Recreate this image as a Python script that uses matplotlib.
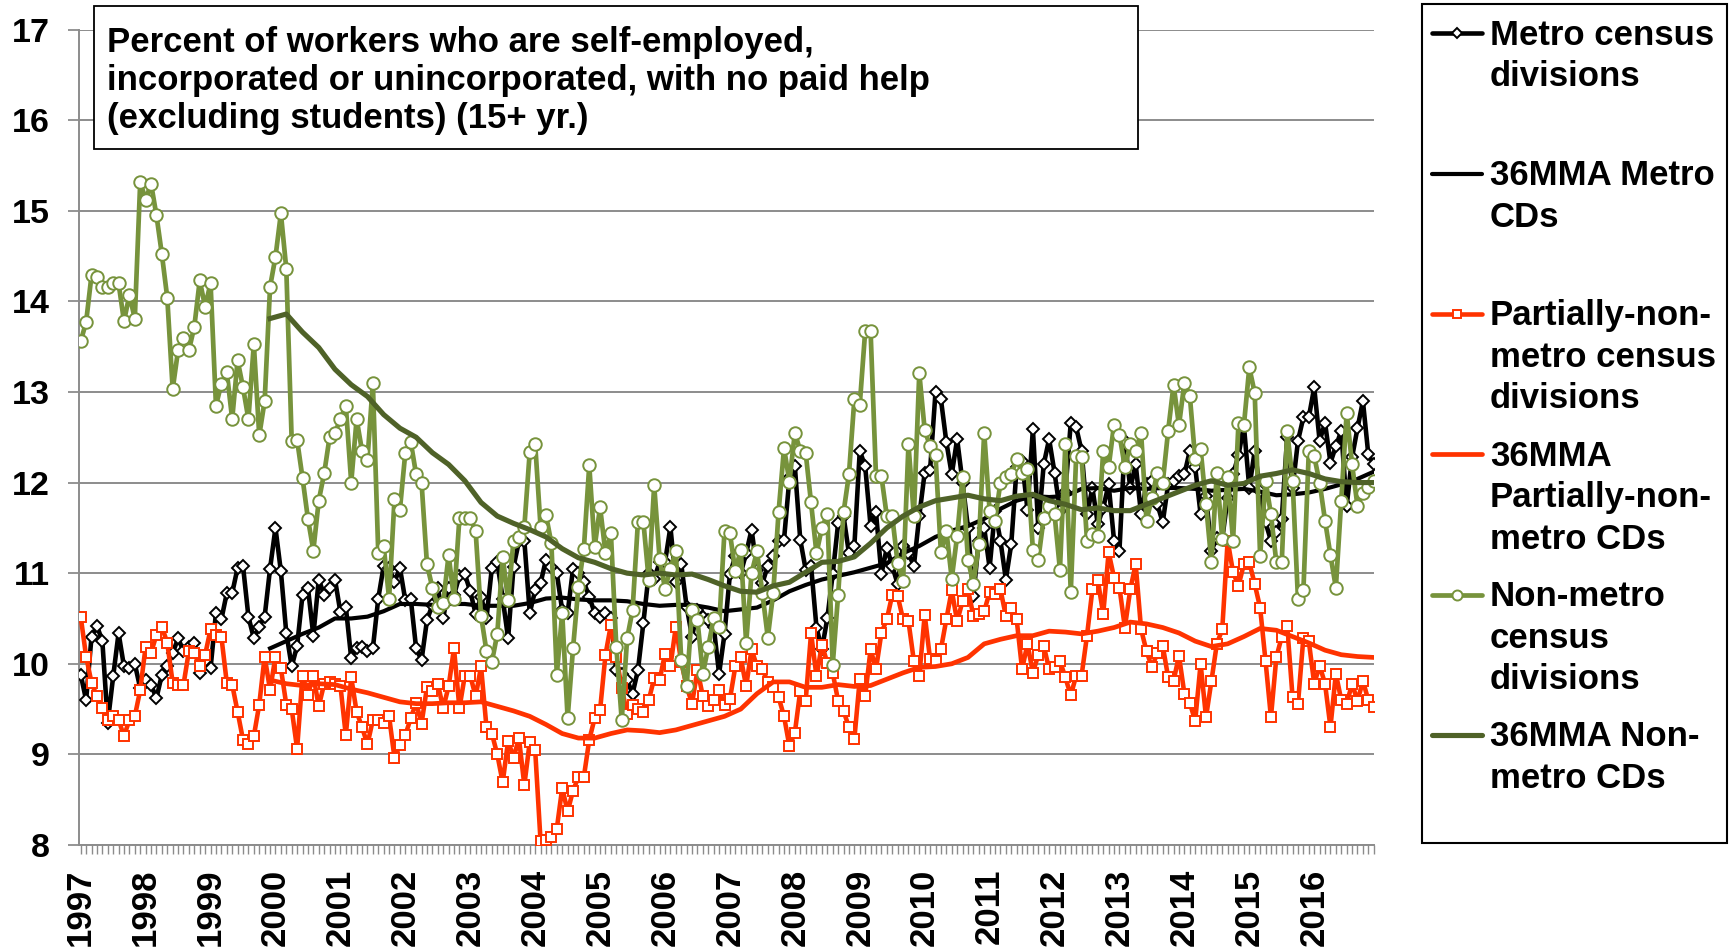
"""
Self-employment (no paid help) by census-division type, monthly 1997-2016,
with 36-month moving averages. Saves out.png.
"""

import matplotlib
matplotlib.use("Agg")
import matplotlib.pyplot as plt
import numpy as np
from matplotlib.lines import Line2D
from matplotlib.patches import Rectangle

BLACK = "#000000"
RED = "#FF3300"
GREEN = "#77933C"
OLIVE = "#4F6228"
GRID = "#8C8C8C"

plt.rcParams["font.family"] = ["Liberation Sans", "DejaVu Sans"]
plt.rcParams["font.weight"] = "bold"

YEARS = list(range(1997, 2017))

# monthly values, Jan 1997 .. Dec 2016 (12 per row)
METRO = [
    9.88, 9.60, 10.30, 10.42, 10.25, 9.35, 9.86, 10.34, 9.97, 9.95, 10.00, 9.73,
    9.82, 9.77, 9.62, 9.88, 9.97, 10.12, 10.28, 10.14, 10.19, 10.23, 9.90, 10.03,
    9.95, 10.56, 10.49, 10.78, 10.78, 11.06, 11.08, 10.52, 10.28, 10.41, 10.52, 11.05,
    11.50, 11.02, 10.34, 9.97, 10.20, 10.76, 10.84, 10.31, 10.93, 10.76, 10.84, 10.93,
    10.57, 10.63, 10.06, 10.17, 10.19, 10.14, 10.17, 10.72, 11.08, 11.06, 10.90, 11.06,
    10.70, 10.72, 10.17, 10.04, 10.48, 10.65, 10.84, 10.50, 10.84, 10.76, 10.97, 10.99,
    10.80, 10.55, 10.74, 10.50, 11.06, 11.12, 10.72, 10.28, 11.07, 11.35, 11.36, 10.56,
    10.81, 10.89, 11.15, 11.07, 11.00, 10.59, 10.56, 11.05, 11.00, 10.90, 10.74, 10.56,
    10.52, 10.56, 10.50, 9.93, 9.89, 9.82, 9.67, 9.93, 10.45, 11.00, 10.94, 11.12,
    11.12, 11.51, 10.90, 11.10, 10.63, 10.30, 10.59, 10.52, 10.48, 10.41, 9.89, 10.33,
    10.99, 11.19, 11.00, 11.22, 11.48, 11.04, 10.89, 11.08, 11.19, 11.35, 11.37, 12.05,
    12.18, 11.37, 11.04, 11.08, 10.40, 10.16, 10.50, 10.99, 11.55, 11.63, 11.22, 11.30,
    12.35, 12.18, 11.52, 11.67, 10.99, 11.28, 11.08, 10.88, 11.30, 11.22, 11.08, 11.63,
    12.11, 12.14, 13.00, 12.92, 12.45, 12.09, 12.48, 12.00, 11.50, 10.75, 11.36, 11.50,
    11.06, 11.69, 11.36, 10.93, 11.32, 12.17, 12.24, 11.70, 12.59, 11.50, 12.20, 12.48,
    12.11, 11.69, 11.90, 12.66, 12.61, 12.35, 11.65, 11.94, 11.54, 11.72, 11.98, 11.36,
    11.25, 12.46, 11.94, 12.20, 11.65, 11.98, 12.02, 11.76, 11.56, 11.98, 12.02, 12.07,
    12.09, 12.35, 12.17, 11.65, 11.85, 11.25, 11.39, 11.38, 11.83, 12.09, 12.30, 12.63,
    11.94, 12.35, 11.91, 11.56, 11.36, 11.45, 11.60, 12.50, 11.94, 12.46, 12.72, 12.72,
    13.05, 12.46, 12.66, 12.22, 12.40, 12.57, 11.74, 12.28, 12.60, 12.90, 12.31, 12.20,
]

PARTIAL = [
    10.52, 10.08, 9.79, 9.64, 9.51, 9.38, 9.42, 9.38, 9.20, 9.38, 9.42, 9.71,
    10.19, 10.12, 10.32, 10.41, 10.23, 9.79, 9.77, 9.77, 10.14, 10.12, 9.97, 10.10,
    10.38, 10.32, 10.30, 9.79, 9.77, 9.47, 9.16, 9.12, 9.20, 9.55, 10.08, 9.71,
    10.08, 9.95, 9.55, 9.50, 9.06, 9.87, 9.66, 9.87, 9.53, 9.78, 9.80, 9.78,
    9.76, 9.21, 9.85, 9.47, 9.30, 9.11, 9.38, 9.38, 9.35, 9.42, 8.96, 9.10,
    9.21, 9.40, 9.57, 9.34, 9.74, 9.70, 9.78, 9.51, 9.75, 10.17, 9.51, 9.87,
    9.87, 9.64, 9.97, 9.30, 9.23, 9.00, 8.69, 9.15, 8.96, 9.18, 8.66, 9.14,
    9.05, 8.04, 8.06, 8.09, 8.18, 8.63, 8.37, 8.60, 8.75, 8.75, 9.16, 9.40,
    9.49, 10.10, 10.43, 10.08, 9.73, 9.45, 9.54, 9.50, 9.47, 9.60, 9.84, 9.82,
    10.11, 9.97, 10.41, 10.02, 9.75, 9.56, 9.93, 9.64, 9.53, 9.60, 9.71, 9.55,
    9.61, 9.97, 10.07, 9.75, 10.16, 9.97, 9.94, 9.80, 9.74, 9.63, 9.42, 9.09,
    9.24, 9.70, 9.59, 10.34, 9.86, 10.21, 10.01, 9.90, 9.59, 9.48, 9.30, 9.17,
    9.83, 9.64, 10.16, 9.94, 10.34, 10.49, 10.76, 10.75, 10.49, 10.47, 10.03, 9.86,
    10.54, 10.05, 10.03, 10.16, 10.49, 10.81, 10.47, 10.69, 10.82, 10.53, 10.55, 10.58,
    10.79, 10.77, 10.82, 10.53, 10.62, 10.49, 9.94, 10.22, 9.90, 10.10, 10.20, 9.94,
    9.96, 10.03, 9.85, 9.65, 9.87, 9.87, 10.31, 10.82, 10.92, 10.55, 11.23, 10.95,
    10.84, 10.40, 10.82, 11.10, 10.38, 10.14, 9.96, 10.12, 10.20, 9.85, 9.81, 10.09,
    9.67, 9.57, 9.37, 10.00, 9.41, 9.81, 10.22, 10.38, 11.36, 11.01, 10.86, 11.10,
    11.12, 10.88, 10.62, 10.03, 9.41, 10.07, 10.30, 10.42, 9.63, 9.56, 10.29, 10.25,
    9.78, 9.98, 9.78, 9.30, 9.89, 9.60, 9.56, 9.78, 9.59, 9.81, 9.60, 9.52,
]

NONMETRO = [
    13.56, 13.77, 14.29, 14.27, 14.16, 14.16, 14.20, 14.20, 13.78, 14.07, 13.81, 15.32,
    15.12, 15.30, 14.95, 14.52, 14.04, 13.03, 13.46, 13.60, 13.46, 13.72, 14.23, 13.94,
    14.20, 12.85, 13.09, 13.22, 12.70, 13.35, 13.05, 12.70, 13.53, 12.52, 12.90, 14.16,
    14.49, 14.97, 14.36, 12.46, 12.47, 12.05, 11.60, 11.25, 11.80, 12.10, 12.50, 12.55,
    12.70, 12.85, 12.00, 12.70, 12.35, 12.25, 13.10, 11.22, 11.30, 10.72, 11.82, 11.70,
    12.33, 12.45, 12.09, 12.00, 11.10, 10.84, 10.63, 10.67, 11.20, 10.72, 11.61, 11.61,
    11.61, 11.46, 10.53, 10.14, 10.02, 10.33, 11.18, 10.70, 11.36, 11.40, 11.51, 12.34,
    12.43, 11.51, 11.64, 11.33, 9.88, 10.56, 9.40, 10.17, 10.85, 11.27, 12.19, 11.29,
    11.73, 11.22, 11.44, 10.19, 9.38, 10.28, 10.59, 11.57, 11.57, 10.92, 11.97, 11.16,
    10.83, 11.05, 11.24, 10.04, 9.75, 10.59, 10.48, 9.89, 10.19, 10.50, 10.41, 11.47,
    11.44, 11.02, 11.26, 10.23, 11.00, 11.24, 10.78, 10.29, 10.78, 11.68, 12.38, 12.01,
    12.55, 12.35, 12.33, 11.78, 11.22, 11.50, 11.65, 9.99, 10.76, 11.67, 12.09, 12.92,
    12.86, 13.67, 13.67, 12.07, 12.07, 11.63, 11.63, 11.11, 10.91, 12.42, 11.63, 13.21,
    12.58, 12.40, 12.30, 11.23, 11.47, 10.94, 11.41, 12.06, 11.15, 10.88, 11.32, 12.55,
    11.69, 11.58, 12.00, 12.06, 12.09, 12.26, 12.11, 12.15, 11.26, 11.15, 11.61, 11.74,
    11.65, 11.04, 12.42, 10.79, 12.29, 12.28, 11.36, 11.43, 11.41, 12.35, 12.17, 12.64,
    12.53, 12.17, 12.42, 12.35, 12.55, 11.58, 11.83, 12.11, 12.00, 12.57, 13.08, 12.63,
    13.10, 12.96, 12.26, 12.37, 11.76, 11.12, 12.11, 11.38, 12.06, 11.36, 12.66, 12.63,
    13.27, 12.99, 11.19, 12.02, 11.65, 11.12, 11.12, 12.57, 12.02, 10.71, 10.81, 12.35,
    12.29, 12.00, 11.58, 11.20, 10.84, 11.80, 12.77, 12.20, 11.74, 11.89, 11.95, 12.02,
]

# 36-month moving averages, read every third month from Dec 1999 (month 35)
MA_MONTHS = list(range(35, 240, 3))

MA_METRO = [
    10.17, 10.25, 10.33, 10.40, 10.50, 10.50, 10.52, 10.58, 10.66, 10.66, 10.65, 10.66,
    10.66, 10.64, 10.64, 10.64, 10.67, 10.72, 10.73, 10.71, 10.70, 10.70, 10.69, 10.66,
    10.64, 10.65, 10.65, 10.62, 10.58, 10.60, 10.62, 10.70, 10.80, 10.87, 10.93, 10.97,
    11.01, 11.06, 11.11, 11.22, 11.30, 11.40, 11.47, 11.52, 11.60, 11.71, 11.80, 11.85,
    11.84, 11.85, 11.93, 11.94, 11.91, 11.94, 11.93, 11.94, 11.94, 11.93, 11.91, 11.92,
    11.93, 11.90, 11.86, 11.87, 11.89, 11.93, 11.98, 12.04, 12.12,
]

MA_PARTIAL = [
    9.82, 9.78, 9.76, 9.78, 9.77, 9.72, 9.68, 9.63, 9.58, 9.56, 9.56, 9.57,
    9.57, 9.58, 9.53, 9.48, 9.42, 9.33, 9.23, 9.18, 9.18, 9.23, 9.27, 9.26,
    9.24, 9.27, 9.32, 9.37, 9.42, 9.50, 9.67, 9.80, 9.80, 9.74, 9.74, 9.77,
    9.75, 9.76, 9.83, 9.90, 9.96, 9.97, 10.00, 10.07, 10.22, 10.27, 10.31, 10.31,
    10.36, 10.35, 10.33, 10.36, 10.40, 10.46, 10.44, 10.40, 10.34, 10.25, 10.19, 10.22,
    10.30, 10.39, 10.37, 10.30, 10.23, 10.15, 10.10, 10.08, 10.07,
]

MA_NONMETRO = [
    13.81, 13.86, 13.66, 13.49, 13.25, 13.08, 12.95, 12.75, 12.60, 12.50, 12.33, 12.20,
    12.02, 11.78, 11.63, 11.55, 11.48, 11.40, 11.27, 11.17, 11.12, 11.05, 11.00, 10.98,
    11.00, 10.98, 10.99, 10.93, 10.86, 10.80, 10.79, 10.86, 10.90, 11.01, 11.12, 11.13,
    11.18, 11.33, 11.50, 11.63, 11.73, 11.80, 11.83, 11.86, 11.82, 11.80, 11.85, 11.87,
    11.80, 11.76, 11.70, 11.72, 11.69, 11.69, 11.76, 11.83, 11.90, 11.97, 12.02, 11.97,
    11.99, 12.07, 12.10, 12.14, 12.10, 12.04, 12.01, 12.00, 12.00,
]

TITLE_LINES = [
    "Percent of workers who are self-employed,",
    "incorporated or unincorporated, with no paid help",
    "(excluding students) (15+ yr.)",
]

LEGEND_LINES = [
    ["Metro census", "divisions"],
    ["36MMA Metro", "CDs"],
    ["Partially-non-", "metro census", "divisions"],
    ["36MMA", "Partially-non-", "metro CDs"],
    ["Non-metro", "census", "divisions"],
    ["36MMA Non-", "metro CDs"],
]

# series styles, in legend order
STYLES = [
    dict(color=BLACK, lw=3.3, marker="D", ms=6.3, mfc="white", mec=BLACK, mew=1.4),
    dict(color=BLACK, lw=3.0),
    dict(color=RED, lw=3.3, marker="s", ms=7.6, mfc="white", mec=RED, mew=1.4),
    dict(color=RED, lw=3.4),
    dict(color=GREEN, lw=3.4, marker="o", ms=9, mfc="white", mec=GREEN, mew=1.4),
    dict(color=OLIVE, lw=3.7),
]

W, H = 1733, 948
fig = plt.figure(figsize=(W / 100, H / 100), dpi=100)

# plot area in pixels: x 79..1374, y 29.5..845
x0, x1, ytop, ybot = 79.3, 1374.0, 29.5, 845.0
ax = fig.add_axes([x0 / W, 1 - ybot / H, (x1 - x0) / W, (ybot - ytop) / H])

series = [
    (np.arange(len(METRO)), METRO),
    (MA_MONTHS, MA_METRO),
    (np.arange(len(PARTIAL)), PARTIAL),
    (MA_MONTHS, MA_PARTIAL),
    (np.arange(len(NONMETRO)), NONMETRO),
    (MA_MONTHS, MA_NONMETRO),
]
for i, ((xs, ys), st) in enumerate(zip(series, STYLES)):
    ax.plot(xs, ys, zorder=3 + i, solid_joinstyle="round", **st)

ax.set_xlim(-0.26, 239.05)
ax.set_ylim(8, 17)
ax.set_yticks(range(8, 18))
ax.set_xticks([12 * i for i in range(len(YEARS))])
ax.set_xticklabels([str(y) for y in YEARS], rotation=90, fontsize=25,
                   fontweight="bold", va="top")
ax.set_xticks(range(240), minor=True)
ax.tick_params(axis="x", which="both", direction="out", length=6.5,
               width=1, color=GRID, pad=10.5)
ax.tick_params(axis="y", direction="out", length=8, width=1.3, color=GRID,
               pad=13, labelsize=24.5)
for lab in ax.get_yticklabels():
    lab.set_fontweight("bold")

ax.yaxis.grid(True, color=GRID, lw=1.4, zorder=1)
ax.set_axisbelow(True)
for side in ("top", "right"):
    ax.spines[side].set_visible(False)
for side in ("left", "bottom"):
    ax.spines[side].set_color(GRID)
    ax.spines[side].set_linewidth(1.4)

# overlay in pixel coordinates for the title box and legend
ov = fig.add_axes([0, 0, 1, 1], zorder=10)
ov.set_xlim(0, W)
ov.set_ylim(H, 0)
ov.axis("off")

ov.add_patch(Rectangle((94, 5.5), 1138 - 94, 149 - 5.5, facecolor="white",
                       edgecolor="black", lw=1.3))
for k, line in enumerate(TITLE_LINES):
    ov.text(107, 42 + 38.2 * k, line, fontsize=25, fontweight="bold",
            va="center", ha="left")

ov.add_patch(Rectangle((1422, 4), 1727 - 1422, 843 - 4, facecolor="white",
                       edgecolor="black", lw=1.5))
for i, (lines, st) in enumerate(zip(LEGEND_LINES, STYLES)):
    y = 33.3 + 140.3 * i
    line_st = {k: v for k, v in st.items() if k in ("color", "lw")}
    ov.add_line(Line2D([1432, 1482], [y, y], solid_capstyle="round", **line_st))
    if "marker" in st:
        ov.add_line(Line2D([1457], [y], linestyle="none", marker=st["marker"],
                           ms=st["ms"] * 0.8, mfc=st["mfc"], mec=st["mec"],
                           mew=st["mew"]))
    for k, txt in enumerate(lines):
        ov.text(1490, y + 2 + 41.5 * k, txt, fontsize=25, fontweight="bold",
                va="center", ha="left")

fig.savefig("out.png", dpi=100)
